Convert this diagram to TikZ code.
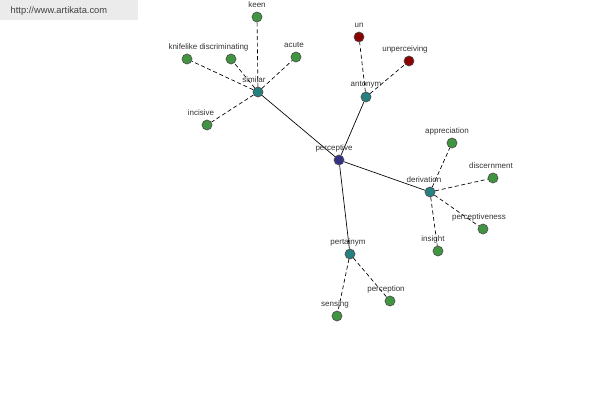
\documentclass[tikz,border=0pt]{standalone}
\usepackage{fontspec}
\setmainfont{Liberation Sans}
\begin{document}
\begin{tikzpicture}[x=0.75pt,y=-0.75pt,
  dot/.style={circle,draw=black!70,line width=0.5pt,minimum size=7.5pt,inner sep=0pt},
  lf/.style={dot,fill=green!45!black!75},
  hub/.style={dot,fill=teal!70!gray},
  rd/.style={dot,fill=red!55!black},
  lab/.style={font=\fontsize{6}{7}\selectfont,text=black!80},
  sl/.style={line width=0.5pt,black},
  dl/.style={line width=0.5pt,black,dashed,dash pattern=on 3pt off 2pt}]
\useasboundingbox (0,0) rectangle (600,400);
\fill[black!8] (0,0) rectangle (138,20);
\node[anchor=west,font=\fontsize{7}{8}\selectfont,text=black!75] (wm) at (6,11) {http://www.artikata.com};
\node[dot,fill=blue!40!black!80] (p) at (339,160) {};
\node[hub] (s) at (258,92) {};
\node[hub] (a) at (366,97) {};
\node[hub] (d) at (430,192) {};
\node[hub] (t) at (350,254) {};
\node[lf] (keen) at (257,17) {};
\node[lf] (kn) at (187,59) {};
\node[lf] (dis) at (231,59) {};
\node[lf] (ac) at (296,57) {};
\node[lf] (inc) at (207,125) {};
\node[rd] (un) at (359,37) {};
\node[rd] (unp) at (409,61) {};
\node[lf] (app) at (452,143) {};
\node[lf] (disc) at (493,178) {};
\node[lf] (pv) at (483,229) {};
\node[lf] (ins) at (438,251) {};
\node[lf] (sen) at (337,316) {};
\node[lf] (per) at (390,301) {};
\begin{scope}[on background layer/.style={}]
\end{scope}
\draw[sl] (p)--(s); \draw[sl] (p)--(a); \draw[sl] (p)--(d); \draw[sl] (p)--(t);
\foreach \x in {keen,kn,dis,ac,inc} \draw[dl] (s)--(\x);
\foreach \x in {un,unp} \draw[dl] (a)--(\x);
\foreach \x in {app,disc,pv,ins} \draw[dl] (d)--(\x);
\foreach \x in {sen,per} \draw[dl] (t)--(\x);
\node[lab] (lp) at (334,148) {perceptive};
\node[lab] (ls) at (254,80) {similar};
\node[lab] (la) at (366,85) {antonym};
\node[lab] (ld) at (424,180) {derivation};
\node[lab] (lt) at (348,242) {pertainym};
\node[lab] (l1) at (257,5) {keen};
\node[lab] (l2) at (183,47) {knifelike};
\node[lab] (l3) at (224,47) {discriminating};
\node[lab] (l4) at (294,45) {acute};
\node[lab] (l5) at (201,113) {incisive};
\node[lab] (l6) at (359,25) {un};
\node[lab] (l7) at (405,49) {unperceiving};
\node[lab] (l8) at (447,131) {appreciation};
\node[lab] (l9) at (491,166) {discernment};
\node[lab] (l10) at (479,217) {perceptiveness};
\node[lab] (l11) at (433,239) {insight};
\node[lab] (l12) at (335,304) {sensing};
\node[lab] (l13) at (386,289) {perception};
\end{tikzpicture}
\end{document}
